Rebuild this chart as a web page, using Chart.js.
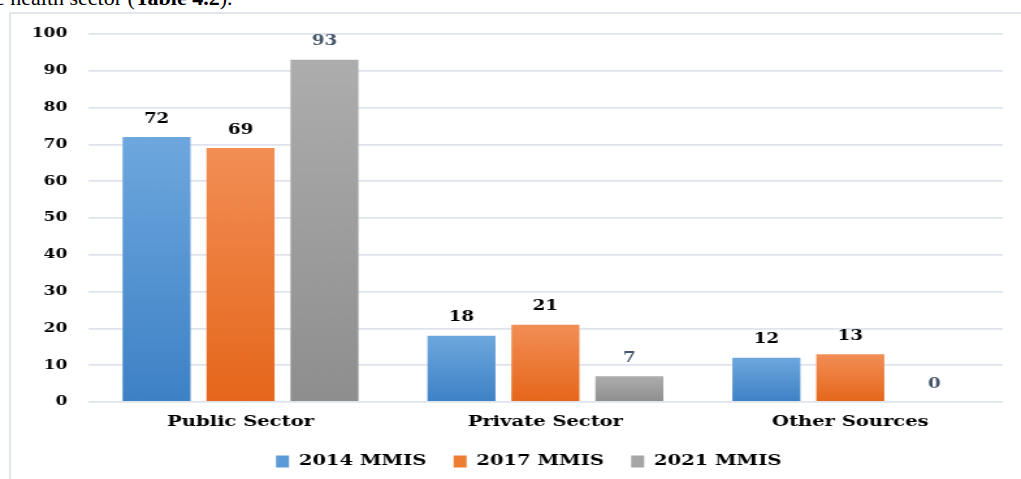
<!DOCTYPE html>
<html>
<head>
<meta charset="utf-8">
<script src="https://cdn.jsdelivr.net/npm/chart.js@4.4.1/dist/chart.umd.min.js"></script>
<style>
  html, body { margin: 0; padding: 0; background: #fff; overflow: hidden; }
  #wrap { position: relative; width: 1021px; height: 479px; overflow: hidden; }
  #frame {
    position: absolute; left: 9px; top: 12px; width: 1030px; height: 480px;
    border-left: 2px solid #e1e5ec; border-top: 2px solid #e1e5ec;
  }
  #caption {
    position: absolute; left: -5px; top: -13px; white-space: nowrap;
    font-family: "Liberation Serif", serif; font-size: 22px; line-height: 22px; color: #000;
  }
  /* the source chart is stretched sideways, so stretch the canvas the same way */
  #chart { position: absolute; left: 0; top: 0; transform: scale(1.3006, 1); transform-origin: 0 0; }
</style>
</head>
<body>
<div id="wrap">
  <div id="caption">e health sector (<b>Table 4.2</b>).</div>
  <div id="frame"></div>
  <canvas id="chart" width="785" height="479"></canvas>
</div>
<script>
/* ================== DATA ================== */
const categories = ["Public Sector", "Private Sector", "Other Sources"];
const seriesNames = ["2014 MMIS", "2017 MMIS", "2021 MMIS"];
const mmis2014 = [72, 18, 12];
const mmis2017 = [69, 21, 13];
const mmis2021 = [93, 7, 0];
const yTicks = [0, 10, 20, 30, 40, 50, 60, 70, 80, 90, 100];

/* ================== STYLE ================== */
const FONT = "'DejaVu Serif', serif";
const GRID = "#dfe4ec";
const gradStops = [
  ["#6ea7de", "#3d81c5"],   // blue
  ["#f28e55", "#e5661a"],   // orange
  ["#adadad", "#8e8e8e"]    // gray
];
const solid = ["#5b9bd5", "#ed7d31", "#a5a5a5"];
const labelColors = ["#000000", "#000000", "#44546a"];

function barGradient(i) {
  return ctx => {
    const chart = ctx.chart;
    if (!chart.chartArea || ctx.raw == null) return solid[i];
    const y = chart.scales.y;
    const top = y.getPixelForValue(ctx.raw);
    const bottom = y.getPixelForValue(0);
    if (bottom - top < 1) return solid[i];
    const g = chart.ctx.createLinearGradient(0, top, 0, bottom);
    g.addColorStop(0, gradStops[i][0]);
    g.addColorStop(1, gradStops[i][1]);
    return g;
  };
}

/* ================== VALUE LABELS ================== */
const valueLabels = {
  id: "valueLabels",
  afterDatasetsDraw(chart) {
    const c = chart.ctx;
    c.save();
    c.font = "bold 14px " + FONT;
    c.textAlign = "center";
    c.textBaseline = "middle";
    chart.data.datasets.forEach((ds, i) => {
      const meta = chart.getDatasetMeta(i);
      c.fillStyle = labelColors[i];
      meta.data.forEach((bar, j) => {
        c.fillText(String(ds.data[j]), bar.x, bar.y - 18);
      });
    });
    c.restore();
  }
};

// legend in the source sits a little right of the canvas centre
const legendShift = {
  id: "legendShift",
  afterLayout(chart) {
    if (!chart.legend) return;
    chart.legend.left += 21;
    chart.legend.right += 21;
  }
};

/* ================== CHART ================== */
const allSeries = [mmis2014, mmis2017, mmis2021];

new Chart(document.getElementById("chart"), {
  type: "bar",
  data: {
    labels: categories,
    datasets: allSeries.map((data, i) => ({
      label: seriesNames[i],
      data: data,
      backgroundColor: barGradient(i),
      borderWidth: 0,
      categoryPercentage: 0.826,
      barPercentage: 0.81
    }))
  },
  options: {
    responsive: false,
    animation: false,
    layout: { padding: { top: 34, right: 14, bottom: 0, left: 0 } },
    plugins: {
      tooltip: { enabled: false },
      legend: {
        position: "bottom",
        labels: {
          font: { family: FONT, size: 15, weight: "bold" },
          color: "#000",
          boxWidth: 10,
          boxHeight: 12,
          padding: 21,
          generateLabels: chart => seriesNames.map((name, i) => ({
            text: name,
            fillStyle: solid[i],
            strokeStyle: solid[i],
            lineWidth: 0,
            datasetIndex: i
          }))
        }
      }
    },
    scales: {
      x: {
        afterFit: s => { s.height = 31; },
        grid: { display: false, drawTicks: false },
        border: { display: false },
        ticks: {
          font: { family: FONT, size: 15, weight: "bold" },
          color: "#000",
          padding: 11
        }
      },
      y: {
        min: 0,
        max: 100,
        afterFit: s => { s.width = 67.7; },
        afterBuildTicks: s => { s.ticks = yTicks.map(v => ({ value: v })); },
        grid: { color: GRID, lineWidth: 1.8, drawTicks: false },
        border: { display: false },
        ticks: {
          font: { family: FONT, size: 13, weight: "bold" },
          color: "#000",
          padding: 16
        }
      }
    }
  },
  plugins: [valueLabels, legendShift]
});
</script>
</body>
</html>
